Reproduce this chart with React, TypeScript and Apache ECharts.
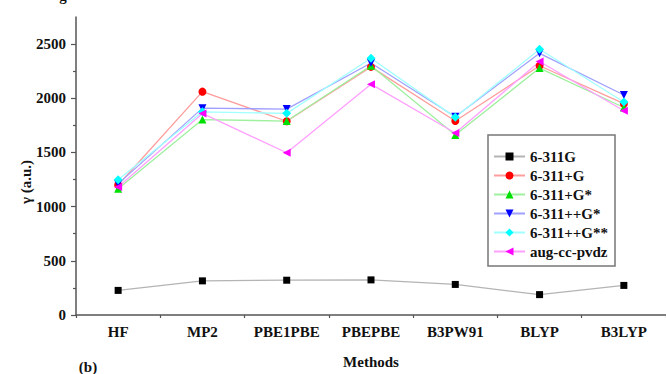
import React, { useEffect, useRef } from "react";
import * as echarts from "echarts";

const methods = ["HF", "MP2", "PBE1PBE", "PBEPBE", "B3PW91", "BLYP", "B3LYP"];
const s6311G = [227, 315, 321, 324, 282, 188, 273];
const s6311pG = [1200, 2061, 1788, 2290, 1790, 2300, 1950];
const s6311pGs = [1165, 1803, 1790, 2300, 1660, 2279, 1915];
const s6311ppGs = [1210, 1909, 1900, 2325, 1830, 2415, 2030];
const s6311ppGss = [1248, 1875, 1861, 2370, 1824, 2452, 1966];
const augccpvdz = [1182, 1860, 1497, 2130, 1679, 2339, 1885];
const yMajorTicks = [0, 500, 1000, 1500, 2000, 2500];
const yMinorTicks = [250, 750, 1250, 1750, 2250];

const FONT = "'Liberation Serif', 'Times New Roman', serif";

export default function App() {
  const ref = useRef<HTMLDivElement>(null);
  useEffect(() => {
    if (!ref.current) return;
    const chart = echarts.init(ref.current, undefined, { renderer: "svg" });
    const mk = (
      name: string,
      data: number[],
      symbol: string,
      color: string,
      lineColor: string,
      rotate = 0,
      size = 8
    ) => ({
      name,
      type: "line",
      data,
      symbol,
      symbolSize: size,
      symbolRotate: rotate,
      itemStyle: { color },
      lineStyle: { color: lineColor, width: 1.3 },
      xAxisIndex: 0,
      yAxisIndex: 0,
    });
    chart.setOption({
      animation: false,
      backgroundColor: "#ffffff",
      grid: { left: 76, top: 17, width: 599, height: 302 },
      xAxis: [
        {
          type: "category",
          data: methods,
          boundaryGap: true,
          axisLine: { lineStyle: { color: "#555", width: 1.5 } },
          axisTick: { alignWithLabel: true, interval: 0, length: 5, lineStyle: { color: "#555", width: 1.2 } },
          axisLabel: {
            interval: 0,
            margin: 9,
            color: "#111",
            fontFamily: FONT,
            fontWeight: "bold",
            fontSize: 15,
          },
          name: "Methods",
          nameLocation: "middle",
          nameGap: 39,
          nameTextStyle: { color: "#111", fontFamily: FONT, fontWeight: "bold", fontSize: 15 },
        },
        {
          type: "category",
          data: methods,
          boundaryGap: true,
          position: "bottom",
          axisLine: { show: false },
          axisTick: { show: true, interval: 0, length: 3, lineStyle: { color: "#555", width: 1.2 } },
          axisLabel: { show: false },
        },
      ],
      yAxis: [
        {
          type: "value",
          min: 0,
          max: 2750,
          interval: 250,
          splitLine: { show: false },
          axisLine: { show: true, lineStyle: { color: "#555", width: 1.5 } },
          axisTick: { show: true, length: 5, customValues: yMajorTicks, lineStyle: { color: "#555", width: 1.2 } },
          axisLabel: {
            customValues: yMajorTicks,
            formatter: (v: number) => String(v),
            margin: 10,
            color: "#111",
            fontFamily: FONT,
            fontWeight: "bold",
            fontSize: 15,
          },
        },
        {
          type: "value",
          min: 0,
          max: 2750,
          interval: 250,
          position: "left",
          offset: 0,
          splitLine: { show: false },
          axisLine: { show: false },
          axisTick: { show: true, length: 3, customValues: yMinorTicks, lineStyle: { color: "#555", width: 1.2 } },
          axisLabel: { show: false },
        },
      ],
      legend: {
        orient: "vertical",
        left: 493,
        top: 149,
        padding: 0,
        itemWidth: 31,
        itemHeight: 10,
        itemGap: 4,
        textStyle: { color: "#111", fontFamily: FONT, fontWeight: "bold", fontSize: 15, lineHeight: 15 },
        data: ["6-311G", "6-311+G", "6-311+G*", "6-311++G*", "6-311++G**", "aug-cc-pvdz"],
      },
      graphic: [
        {
          type: "rect",
          shape: { x: 488, y: 135, width: 127, height: 131 },
          style: { fill: "none", stroke: "#777", lineWidth: 1.5 },
          z: 10,
        },
        {
          type: "text",
          x: 26,
          y: 182,
          rotation: Math.PI / 2,
          style: {
            text: "γ (a.u.)",
            fill: "#111",
            font: `bold 15px ${FONT}`,
            align: "center",
            verticalAlign: "middle",
          },
        },
        {
          type: "text",
          x: 88,
          y: 367,
          style: {
            text: "(b)",
            fill: "#111",
            font: `bold 15px ${FONT}`,
            align: "center",
            verticalAlign: "middle",
          },
        },
        {
          type: "text",
          x: 63,
          y: 3,
          style: {
            text: "g",
            fill: "#111",
            font: `bold 15px ${FONT}`,
            align: "center",
            verticalAlign: "bottom",
          },
        },
      ],
      series: [
        mk("6-311G", s6311G, "rect", "#000000", "#b4b4b4", 0, 7),
        mk("6-311+G", s6311pG, "circle", "#ff0000", "#ff9c9c"),
        mk("6-311+G*", s6311pGs, "triangle", "#00e000", "#9ef09e"),
        mk("6-311++G*", s6311ppGs, "triangle", "#0000ff", "#a0a0ff", 180),
        mk("6-311++G**", s6311ppGss, "diamond", "#00ffff", "#a0ffff", 0, 9),
        mk("aug-cc-pvdz", augccpvdz, "triangle", "#ff00ff", "#ffa0ff", 90),
      ],
    });
    return () => chart.dispose();
  }, []);
  return (
    <div
      ref={ref}
      style={{ position: "absolute", left: 0, top: 0, width: 666, height: 374 }}
    />
  );
}
